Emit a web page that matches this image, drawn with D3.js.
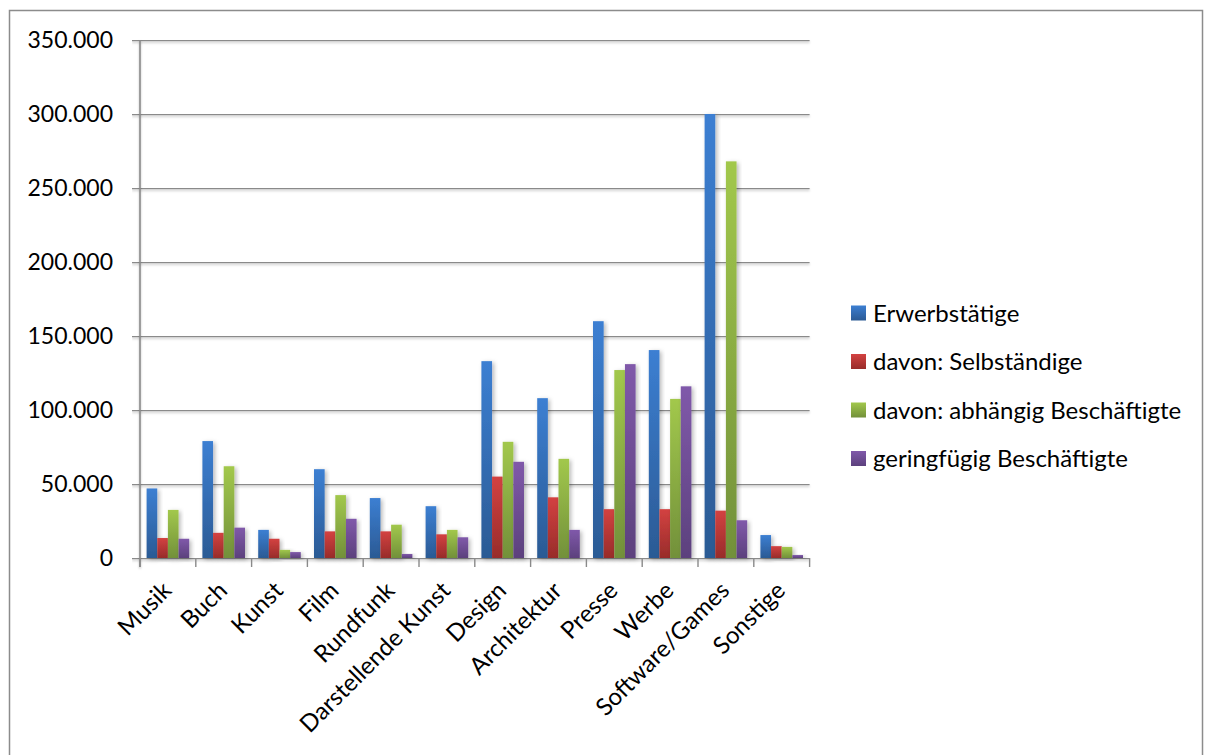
<!DOCTYPE html>
<html lang="de">
<head>
<meta charset="utf-8">
<script src="https://cdn.jsdelivr.net/npm/d3@7"></script>
<style>
  html, body { margin: 0; padding: 0; background: #fff; }
  svg { display: block; font-family: Lato, "Open Sans", sans-serif; }
</style>
</head>
<body>
<svg id="chart" width="1205" height="755"></svg>
<script>
// Kultur- und Kreativwirtschaft: Beschäftigte nach Teilmarkt
const categories = ["Musik", "Buch", "Kunst", "Film", "Rundfunk", "Darstellende Kunst",
  "Design", "Architektur", "Presse", "Werbe", "Software/Games", "Sonstige"];

const seriesNames = ["Erwerbstätige", "davon: Selbständige",
  "davon: abhängig Beschäftigte", "geringfügig Beschäftigte"];

const erwerbstaetige = [47000, 79000, 19000, 60000, 40500, 35000, 133000, 108000, 160000, 140500, 300000, 15500];
const selbstaendige  = [13500, 17000, 13000, 18000, 18000, 16000, 55000, 41000, 33000, 33000, 32000, 8000];
const abhaengig      = [32500, 62000, 5500, 42500, 22500, 19000, 78500, 67000, 127000, 107500, 268000, 7500];
const geringfuegig   = [13000, 20500, 4000, 26500, 2700, 14000, 65000, 19000, 131000, 116000, 25500, 2000];

const yTicks = [0, 50000, 100000, 150000, 200000, 250000, 300000, 350000];

const seriesValues = [erwerbstaetige, selbstaendige, abhaengig, geringfuegig];
const seriesColors = [
  ["#3c7fd2", "#2b5a94"],
  ["#d34241", "#982c2a"],
  ["#a2c84c", "#72903a"],
  ["#8059aa", "#5c417d"]
];

const svg = d3.select("#chart");
const W = 1205, H = 755;

// outer frame
svg.append("rect")
  .attr("x", 9.5).attr("y", 10.5)
  .attr("width", 1193).attr("height", 760)
  .attr("fill", "#fff").attr("stroke", "#8c8c8c").attr("stroke-width", 1.5);

const plot = { left: 140, right: 809.6, top: 40, bottom: 558 };

const x = d3.scaleBand().domain(categories).range([plot.left, plot.right]).paddingInner(0).paddingOuter(0);
const xs = d3.scaleBand().domain(d3.range(seriesNames.length)).range([0, x.bandwidth()])
  .paddingInner(0).paddingOuter(0.62);
const y = d3.scaleLinear().domain([0, 350000]).range([plot.bottom, plot.top]);

const de = d3.formatLocale({ decimal: ",", thousands: ".", grouping: [3], currency: ["", " €"] });
const fmt = de.format(",d");

const defs = svg.append("defs");
const shadow = defs.append("filter").attr("id", "soft").attr("x", "-50%").attr("y", "-20%")
  .attr("width", "200%").attr("height", "140%");
shadow.append("feDropShadow").attr("dx", 2).attr("dy", 1.5).attr("stdDeviation", 2.2)
  .attr("flood-color", "#000").attr("flood-opacity", 0.28);

// shadow for thin rules: region in user space so zero-height lines still render
const lineShadow = defs.append("filter").attr("id", "lineShadow")
  .attr("filterUnits", "userSpaceOnUse")
  .attr("x", 0).attr("y", 0).attr("width", W).attr("height", H);
lineShadow.append("feDropShadow").attr("dx", 0).attr("dy", 1.5).attr("stdDeviation", 1)
  .attr("flood-color", "#000").attr("flood-opacity", 0.25);

seriesColors.forEach((c, i) => {
  const g = defs.append("linearGradient").attr("id", "grad" + i)
    .attr("x1", 0).attr("y1", 0).attr("x2", 0).attr("y2", 1);
  g.append("stop").attr("offset", "0%").attr("stop-color", c[0]);
  g.append("stop").attr("offset", "100%").attr("stop-color", c[1]);
});

// gridlines and y axis
const yAxis = d3.axisLeft(y).tickValues(yTicks).tickFormat(fmt)
  .tickSizeInner(-(plot.right - plot.left) - 8).tickSizeOuter(0).tickPadding(19);
const gy = svg.append("g").attr("transform", `translate(${plot.left - 8},0)`).call(yAxis);
gy.select(".domain").remove();
gy.selectAll(".tick line")
  .attr("x1", 0).attr("x2", plot.right - plot.left + 8)
  .attr("stroke", "#8a8a8a").attr("stroke-width", 1.4).attr("filter", "url(#lineShadow)");
gy.selectAll(".tick text")
  .attr("fill", "#000").style("font-size", "23px").style("font-family", "Lato");

// vertical axis line
svg.append("line")
  .attr("x1", plot.left).attr("x2", plot.left)
  .attr("y1", plot.top).attr("y2", plot.bottom + 9)
  .attr("stroke", "#8a8a8a").attr("stroke-width", 1.6).attr("filter", "url(#lineShadow)");

// category boundary ticks on the baseline
const boundaries = categories.map(c => x(c)).concat([x(categories[categories.length - 1]) + x.bandwidth()]);
svg.append("g").selectAll("line").data(boundaries).join("line")
  .attr("x1", d => d).attr("x2", d => d)
  .attr("y1", plot.bottom).attr("y2", plot.bottom + 9)
  .attr("stroke", "#8a8a8a").attr("stroke-width", 1.4);

// bars
const groups = svg.append("g").selectAll("g").data(categories).join("g")
  .attr("transform", d => `translate(${x(d)},0)`);
groups.selectAll("rect")
  .data((c, ci) => seriesValues.map((vals, si) => ({ si, v: vals[ci] })))
  .join("rect")
  .attr("x", d => xs(d.si))
  .attr("width", xs.bandwidth())
  .attr("y", d => y(d.v))
  .attr("height", d => y(0) - y(d.v))
  .attr("fill", d => `url(#grad${d.si})`)
  .attr("filter", "url(#soft)");

// category labels
svg.append("g").selectAll("text").data(categories).join("text")
  .attr("transform", d => `translate(${x(d) + x.bandwidth() / 2 + 5},${plot.bottom + 34}) rotate(-45)`)
  .attr("text-anchor", "end")
  .attr("fill", "#000")
  .style("font-size", "24px")
  .text(d => d);

// legend
const legend = svg.append("g").attr("transform", "translate(851,0)");
const rows = legend.selectAll("g").data(seriesNames).join("g")
  .attr("transform", (d, i) => `translate(0,${313 + i * 48.5})`);
rows.append("rect")
  .attr("x", 0).attr("y", -7.5).attr("width", 15).attr("height", 15)
  .attr("fill", (d, i) => `url(#grad${i})`);
rows.append("text")
  .attr("x", 22).attr("y", 0).attr("dy", "0.36em")
  .attr("fill", "#000")
  .style("font-size", "24px")
  .text(d => d);
</script>
</body>
</html>
